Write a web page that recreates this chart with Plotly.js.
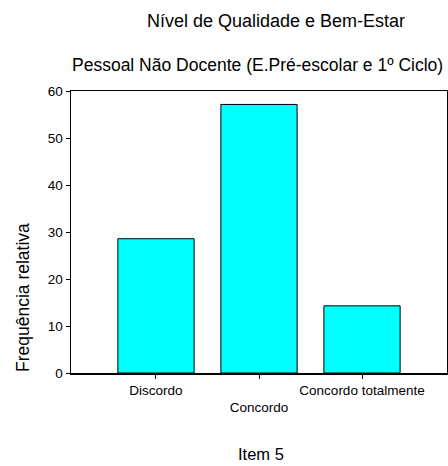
<!DOCTYPE html>
<html>
<head>
<meta charset="utf-8">
<script src="https://cdn.plot.ly/plotly-3.0.1.min.js"></script>
<style>html,body{margin:0;padding:0;background:#fff;}#chart{width:448px;height:466px;}</style>
</head>
<body>
<div id="chart"></div>
<script>
const categories = ["Discordo", "Concordo", "Concordo totalmente"];
const tickLabels = ["Discordo", "<br>Concordo", "Concordo totalmente"];
const values = [28.57, 57.14, 14.29];
const yTicks = [0, 10, 20, 30, 40, 50, 60];

const positions = categories.map((c, i) => i);

const trace = {
  type: "bar",
  x: positions,
  y: values,
  width: 0.74,
  marker: { color: "#00FFFF", line: { color: "#000000", width: 1 } },
  hoverinfo: "skip"
};

const font = "Liberation Sans, Arial, sans-serif";
const plotL = 71, plotW = 376, plotT = 91, plotH = 282;
const px = (x) => (x - plotL) / plotW;
const py = (y) => 1 - (y - plotT) / plotH;

const layout = {
  width: 448,
  height: 466,
  margin: { l: 71, r: 1, t: 91, b: 93 },
  paper_bgcolor: "#ffffff",
  plot_bgcolor: "#ffffff",
  showlegend: false,
  font: { family: font, color: "#000000", size: 13 },
  title: {
    text: "Nível de Qualidade e Bem-Estar",
    font: { family: font, size: 18, color: "#000000" },
    x: 276 / 448, xanchor: "center", xref: "container",
    y: 1 - 21 / 466, yanchor: "middle", yref: "container"
  },
  xaxis: {
    range: [-0.825, 2.825],
    tickvals: positions,
    ticktext: tickLabels,
    ticks: "outside",
    ticklen: 4,
    tickcolor: "#000000",
    showline: true,
    linecolor: "#000000",
    linewidth: 1.5,
    mirror: true,
    showgrid: false,
    zeroline: false,
    tickfont: { family: font, size: 13.5, color: "#000000" },
    fixedrange: true
  },
  yaxis: {
    range: [0, 60],
    tickvals: yTicks,
    ticks: "outside",
    ticklen: 4,
    tickcolor: "#000000",
    showline: true,
    linecolor: "#000000",
    linewidth: 1.5,
    mirror: true,
    showgrid: false,
    zeroline: false,
    tickfont: { family: font, size: 13.5, color: "#000000" },
    fixedrange: true
  },
  annotations: [
    {
      text: "Pessoal Não Docente (E.Pré-escolar e 1º Ciclo)",
      xref: "paper", yref: "paper",
      x: px(257), y: py(65),
      xanchor: "center", yanchor: "middle",
      showarrow: false,
      font: { family: font, size: 17.5, color: "#000000" }
    },
    {
      text: "Frequência relativa",
      xref: "paper", yref: "paper",
      x: px(23), y: py(298),
      xanchor: "center", yanchor: "middle",
      textangle: -90,
      showarrow: false,
      font: { family: font, size: 17.5, color: "#000000" }
    },
    {
      text: "Item 5",
      xref: "paper", yref: "paper",
      x: px(261), y: py(454),
      xanchor: "center", yanchor: "middle",
      showarrow: false,
      font: { family: font, size: 16.5, color: "#000000" }
    }
  ]
};

Plotly.newPlot("chart", [trace], layout, { displayModeBar: false, staticPlot: true });
</script>
</body>
</html>
